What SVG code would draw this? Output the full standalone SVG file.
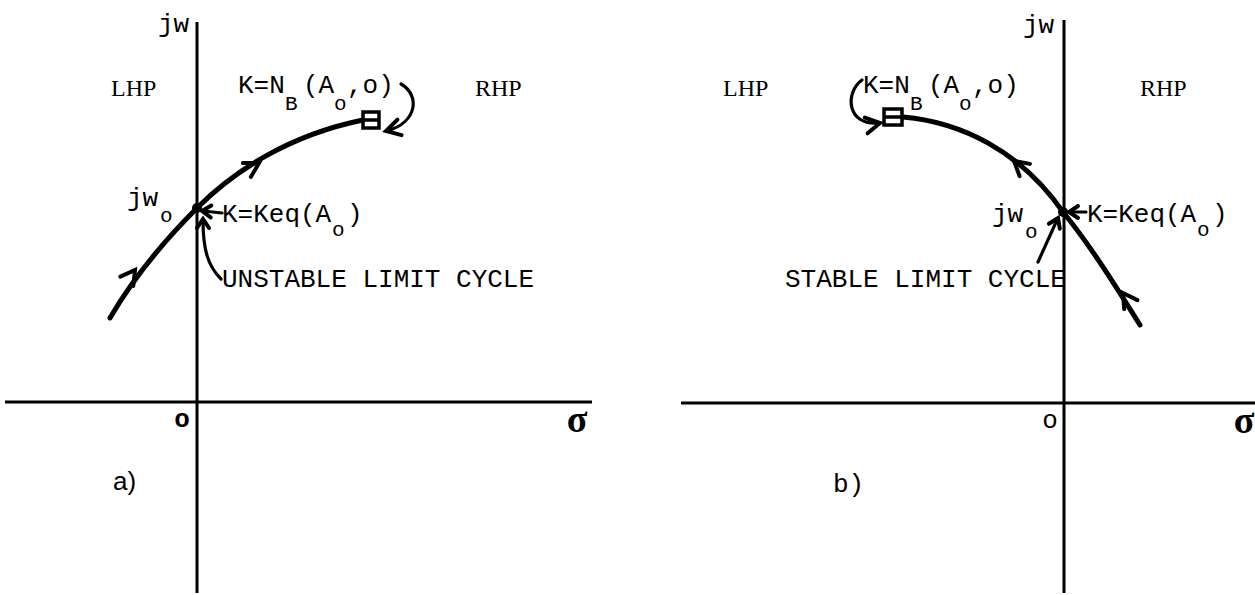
<svg xmlns="http://www.w3.org/2000/svg" xmlns:xlink="http://www.w3.org/1999/xlink" width="1255" height="595" viewBox="0 0 1255 595">
<style>
.axis{stroke:#000;stroke-width:3;fill:none}
.locus{stroke:#000;stroke-width:5;fill:none;stroke-linecap:round}
.thin{stroke:#000;stroke-width:3.2;fill:none;stroke-linecap:round}
.chev{stroke:#000;stroke-width:4;fill:none;stroke-linecap:round;stroke-linejoin:miter}
.box{stroke:#000;stroke-width:3.5;fill:none}
.t{font-family:"Liberation Mono","DejaVu Sans Mono",monospace;font-size:26px;fill:#000}
.hp{font-family:"Liberation Serif","DejaVu Serif",serif;font-size:24px;fill:#000}
.sub{font-size:21px}
.sig{font-family:"Liberation Serif","DejaVu Serif",serif;font-size:38px;font-weight:bold;fill:#000}
</style>
<defs>
<path id="chev" class="chev" d="M-14,-8 L0,0 L-14,8"/>
<path id="chevs" class="chev" d="M-9,-6 L0,0 L-9,6"/>
</defs>
<rect width="1255" height="595" fill="#fff"/>

<g id="panel-a">
  <g id="a-axes">
    <line class="axis" x1="197" y1="22" x2="197" y2="593"/>
    <line class="axis" x1="5" y1="402" x2="592" y2="402"/>
  </g>
  <g id="a-labels">
    <text class="t" x="158" y="32">jw</text>
    <text class="hp" x="111" y="96">LHP</text>
    <text class="hp" x="475" y="96">RHP</text>
    <text class="t" x="182" y="427" text-anchor="middle" font-weight="bold" font-size="22">o</text>
    <text class="sig" x="577" y="432" text-anchor="middle">σ</text>
    <text x="113" y="490" font-family="Liberation Sans, Arial, sans-serif" font-size="26">a)</text>
  </g>
  <g id="a-locus">
    <path class="locus" d="M110,318 C135,275 165,240 197,208 C235,170 290,135 363,120"/>
    <use xlink:href="#chev" transform="translate(135,270) rotate(-54)"/>
    <use xlink:href="#chev" transform="translate(259,163) rotate(-30)"/>
    <circle cx="197" cy="208" r="5" fill="#000"/>
  </g>
  <g id="a-nb">
    <rect class="box" x="363" y="112" width="16" height="16"/>
    <line class="box" x1="363" y1="120" x2="379" y2="120"/>
    <path class="thin" d="M401,84 C420,95 418,122 387,131"/>
    <use xlink:href="#chev" transform="translate(386,131) rotate(165)"/>
    <text class="t" font-size="25"><tspan x="238" y="93">K=N</tspan><tspan class="sub" x="285" y="110">B</tspan><tspan x="303" y="93">(A</tspan><tspan class="sub" x="334" y="110">o</tspan><tspan x="347" y="93">,o)</tspan></text>
  </g>
  <g id="a-keq">
    <text class="t"><tspan x="127" y="206">jw</tspan><tspan class="sub" x="160" y="222">o</tspan></text>
    <line class="thin" x1="222" y1="213" x2="203" y2="211"/>
    <use xlink:href="#chevs" transform="translate(202,211) rotate(183)"/>
    <text class="t"><tspan x="222" y="222">K=Keq(A</tspan><tspan class="sub" x="332" y="236">o</tspan><tspan x="347" y="222">)</tspan></text>
  </g>
  <g id="a-unstable">
    <path class="thin" d="M221,279 C208,266 203,250 203,220"/>
    <use xlink:href="#chevs" transform="translate(203,219) rotate(-90)"/>
    <text class="t" font-size="26.5" x="222" y="287">UNSTABLE LIMIT CYCLE</text>
  </g>
</g>

<g id="panel-b">
  <g id="b-axes">
    <line class="axis" x1="1064" y1="20" x2="1064" y2="593"/>
    <line class="axis" x1="681" y1="403" x2="1255" y2="403"/>
  </g>
  <g id="b-labels">
    <text class="t" x="1023" y="33">jw</text>
    <text class="hp" x="723" y="96">LHP</text>
    <text class="hp" x="1140" y="96">RHP</text>
    <text class="t" x="1050" y="428" text-anchor="middle" font-size="22">o</text>
    <text class="sig" x="1244" y="433" text-anchor="middle">σ</text>
    <text class="t" x="833" y="492">b)</text>
  </g>
  <g id="b-locus">
    <path class="locus" d="M903,117 C960,122 1020,150 1063,212 C1090,245 1115,285 1140,325"/>
    <use xlink:href="#chev" transform="translate(1014,161) rotate(-140)"/>
    <use xlink:href="#chev" transform="translate(1123,293) rotate(-124)"/>
    <circle cx="1063" cy="212" r="5" fill="#000"/>
  </g>
  <g id="b-nb">
    <rect class="box" x="884" y="109" width="18" height="16"/>
    <line class="box" x1="884" y1="117" x2="902" y2="117"/>
    <path class="thin" d="M862,80 C845,92 846,126 879,123"/>
    <use xlink:href="#chev" transform="translate(880,123) rotate(-10)"/>
    <text class="t" font-size="25"><tspan x="863" y="93">K=N</tspan><tspan class="sub" x="910" y="110">B</tspan><tspan x="928" y="93">(A</tspan><tspan class="sub" x="959" y="110">o</tspan><tspan x="972" y="93">,o)</tspan></text>
  </g>
  <g id="b-keq">
    <text class="t"><tspan x="992" y="222">jw</tspan><tspan class="sub" x="1025" y="238">o</tspan></text>
    <line class="thin" x1="1086" y1="212" x2="1070" y2="212"/>
    <use xlink:href="#chevs" transform="translate(1069,212) rotate(180)"/>
    <text class="t"><tspan x="1087" y="222">K=Keq(A</tspan><tspan class="sub" x="1197" y="236">o</tspan><tspan x="1212" y="222">)</tspan></text>
  </g>
  <g id="b-stable">
    <line class="thin" x1="1038" y1="262" x2="1057" y2="220"/>
    <use xlink:href="#chevs" transform="translate(1058,218) rotate(-66)"/>
    <text class="t" font-size="26.5" x="785" y="287">STABLE LIMIT CYCLE</text>
  </g>
</g>
</svg>
